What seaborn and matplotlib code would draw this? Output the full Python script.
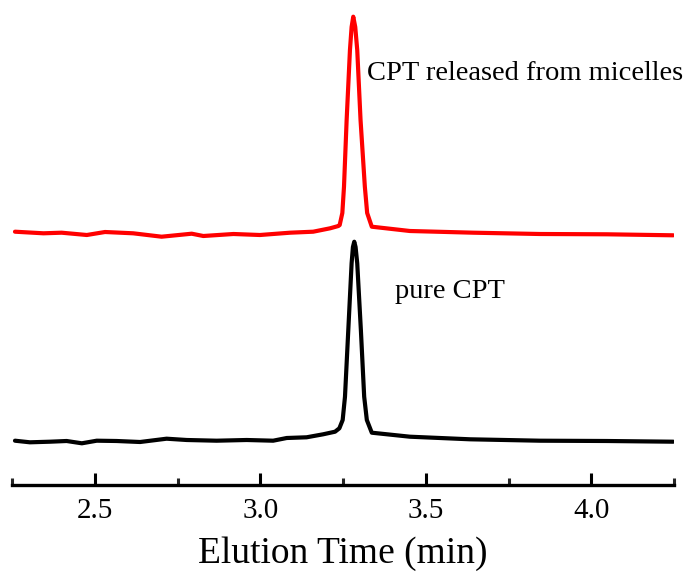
import matplotlib
matplotlib.use("Agg")
import matplotlib.pyplot as plt
import seaborn as sns
import numpy as np
from matplotlib.ticker import MultipleLocator

sns.set_theme(style="white")
plt.rcParams['font.family'] = ['Liberation Serif', 'DejaVu Serif']

# Red trace: CPT released from micelles (elution time in min, signal in plot units)
red_time = [2.259, 2.345, 2.400, 2.476, 2.531, 2.616, 2.702, 2.793, 2.828, 2.919,
            2.999, 3.090, 3.160, 3.211, 3.236, 3.240, 3.248, 3.253, 3.261, 3.271,
            3.276, 3.281, 3.287, 3.293, 3.303, 3.316, 3.323, 3.337, 3.452, 3.644,
            3.845, 4.047, 4.248]
red_signal = [253.3, 251.7, 252.3, 250.0, 253.0, 251.7, 248.3, 251.3, 249.0, 251.0,
              250.0, 252.3, 253.3, 256.7, 259.0, 260.0, 272.0, 298.3, 365.0, 435.0,
              458.0, 468.3, 458.0, 435.0, 365.0, 298.3, 272.0, 258.3, 254.0, 252.3,
              251.0, 250.7, 249.7]

# Black trace: pure CPT
black_time = [2.259, 2.304, 2.365, 2.415, 2.461, 2.506, 2.566, 2.637, 2.717, 2.778,
              2.868, 2.959, 3.039, 3.080, 3.140, 3.190, 3.226, 3.239, 3.249, 3.256,
              3.266, 3.276, 3.280, 3.284, 3.288, 3.293, 3.304, 3.314, 3.322, 3.337,
              3.452, 3.634, 3.845, 4.047, 4.248]
black_signal = [44.3, 42.7, 43.3, 44.0, 41.7, 44.3, 44.0, 43.0, 46.3, 45.0,
                44.3, 45.0, 44.3, 47.0, 47.7, 50.7, 53.3, 56.7, 65.0, 88.3,
                155.0, 221.7, 238.0, 243.3, 238.0, 221.7, 155.0, 88.3, 65.0, 52.3,
                48.3, 45.7, 44.3, 44.0, 43.3]

labels = ["CPT released from micelles", "pure CPT"]
major_ticks = [2.5, 3.0, 3.5, 4.0]
tick_labels = ["2.5", "3.0", "3.5", "4.0"]

fig = plt.figure(figsize=(6.89, 5.72), dpi=100)
ax = fig.add_axes([12/689, 87/572, 662/689, 485/572])

sns.lineplot(x=red_time, y=red_signal, color="#ff0000", linewidth=3.0, ax=ax, sort=False,
             solid_joinstyle="round", solid_capstyle="round")
sns.lineplot(x=black_time, y=black_signal, color="black", linewidth=3.0, ax=ax, sort=False,
             solid_joinstyle="round", solid_capstyle="round")

ax.set_xlim(2.25, 4.25)
ax.set_ylim(0, 485)

for s in ["top", "left", "right"]:
    ax.spines[s].set_visible(False)
ax.spines["bottom"].set_linewidth(2.4)
ax.spines["bottom"].set_color("black")

ax.set_yticks([])
ax.set_xticks(major_ticks)
ax.set_xticklabels(tick_labels)
ax.xaxis.set_minor_locator(MultipleLocator(0.25))
ax.tick_params(axis="x", which="major", direction="in", length=9, width=2.2,
               labelsize=21, pad=9, colors="black", bottom=True)
ax.tick_params(axis="x", which="minor", direction="in", length=5, width=2.2,
               bottom=True)

ax.set_xlabel("Elution Time (min)", fontsize=27, labelpad=9, color="black")

ax.text(3.3225, 405, labels[0], fontsize=20.5, color="black", ha="left", va="baseline")
ax.text(3.407, 187, labels[1], fontsize=20.5, color="black", ha="left", va="baseline")

ax.grid(False)
fig.savefig("out.png", dpi=100)
